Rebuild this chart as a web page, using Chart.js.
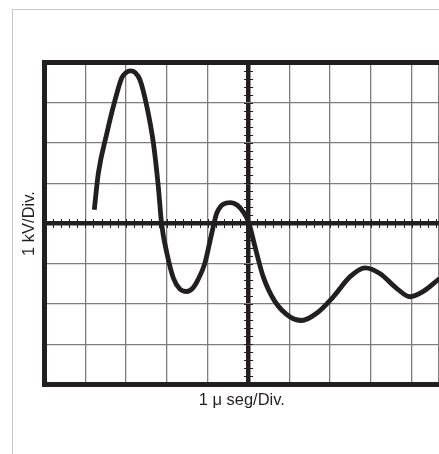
<!DOCTYPE html>
<html>
<head>
<meta charset="utf-8">
<script src="https://cdn.jsdelivr.net/npm/chart.js@4.4.1/dist/chart.umd.min.js"></script>
<style>
  html, body { margin:0; padding:0; background:#fff; overflow:hidden; width:439px; height:454px; }
  #frame { position:absolute; left:12px; top:9px; width:600px; height:600px;
           border-left:1px solid #c9c9c9; border-top:1px solid #c9c9c9; }
  #c { position:absolute; left:0; top:0; }
</style>
</head>
<body>
<div id="frame"></div>
<canvas id="c" width="439" height="454"></canvas>
<script>
// Time in divisions (1 µs/Div) measured from the left edge of the screen
const timeDiv = [1.22,1.32,1.53,1.73,1.89,2.00,2.11,2.22,2.34,2.51,2.67,2.79,2.87,3.00,3.16,3.32,3.49,3.64,3.76,3.93,4.10,4.22,4.38,4.56,4.72,4.87,5.00,5.16,5.36,5.65,6.02,6.30,6.67,7.08,7.49,7.86,8.22,8.63,8.96,9.28,9.68];
// Voltage in divisions (1 kV/Div) from the centre line
const voltDiv = [0.34,1.25,2.25,3.07,3.61,3.75,3.79,3.75,3.57,2.90,1.99,0.91,-0.01,-0.74,-1.36,-1.63,-1.69,-1.60,-1.40,-0.99,-0.24,0.25,0.48,0.52,0.46,0.29,0.04,-0.58,-1.32,-1.94,-2.32,-2.41,-2.23,-1.82,-1.32,-1.10,-1.24,-1.61,-1.82,-1.69,-1.37];
// Grid divisions
const xGridValues = [0,1,2,3,4,5,6,7,8,9];
const X_MIN = 0, X_MAX = 9.669;   // visible part of the 10-division screen
const Y_MIN = -4, Y_MAX = 4;
const X_CENTER = 5, Y_CENTER = 0;
const MINOR_STEP = 0.2;
const xTitle = '1 μ seg/Div.';
const yTitle = '1 kV/Div.';

const INK = '#231f20';
const GRID = '#7d7d7d';
const FONT = "'Liberation Sans', Arial, Helvetica, sans-serif";

const points = timeDiv.map((t, i) => ({x: t, y: voltDiv[i]}));

const minorTicks = {
  id: 'minorTicks',
  beforeDatasetsDraw(chart) {
    const {ctx} = chart;
    const xs = chart.scales.x, ys = chart.scales.y;
    const y0 = ys.getPixelForValue(Y_CENTER);
    const x0 = xs.getPixelForValue(X_CENTER);
    ctx.save();
    ctx.strokeStyle = INK;
    ctx.lineWidth = 1;
    ctx.beginPath();
    for (let v = X_MIN + MINOR_STEP; v < X_MAX; v += MINOR_STEP) {
      const px = Math.round(xs.getPixelForValue(v)) + 0.5;
      ctx.moveTo(px, y0 - 4.5); ctx.lineTo(px, y0 + 4.5);
    }
    for (let v = Y_MIN + MINOR_STEP; v < Y_MAX; v += MINOR_STEP) {
      const py = Math.round(ys.getPixelForValue(v)) + 0.5;
      ctx.moveTo(x0 - 4.5, py); ctx.lineTo(x0 + 4.5, py);
    }
    ctx.stroke();
    ctx.restore();
  }
};

function gridWidth(v, center, edges) {
  if (Math.abs(v - center) < 1e-9) return 4.5;
  if (edges.some(e => Math.abs(v - e) < 1e-9)) return 5;
  return 1.3;
}
function gridColor(v, center, edges) {
  if (Math.abs(v - center) < 1e-9) return INK;
  if (edges.some(e => Math.abs(v - e) < 1e-9)) return INK;
  return GRID;
}

new Chart(document.getElementById('c'), {
  type: 'scatter',
  data: {
    datasets: [{
      data: points,
      showLine: true,
      borderColor: INK,
      borderWidth: 4.8,
      pointRadius: 0,
      cubicInterpolationMode: 'monotone',
      fill: false
    }]
  },
  options: {
    responsive: false,
    devicePixelRatio: 1,
    animation: false,
    layout: { padding: { top: 62.5, right: 0, left: 0, bottom: 0 } },
    plugins: { legend: { display: false }, tooltip: { enabled: false } },
    scales: {
      x: {
        type: 'linear',
        min: X_MIN, max: X_MAX,
        afterBuildTicks(scale) {
          scale.ticks = xGridValues.map(v => ({value: v})).concat([{value: X_MAX}]);
        },
        afterFit(scale) { scale.height = 454 - 384.5; },
        ticks: { display: false },
        grid: {
          drawTicks: false,
          lineWidth: c => gridWidth(c.tick.value, X_CENTER, [X_MIN]),
          color: c => gridColor(c.tick.value, X_CENTER, [X_MIN])
        },
        border: { display: true, width: 5, color: INK },
        title: {
          display: true, text: xTitle, color: INK,
          font: { family: FONT, size: 16.5 },
          padding: { top: 0, bottom: 43.6 }
        }
      },
      y: {
        type: 'linear',
        min: Y_MIN, max: Y_MAX,
        ticks: { display: false, stepSize: 1 },
        afterFit(scale) { scale.width = 44.5; },
        grid: {
          drawTicks: false,
          lineWidth: c => gridWidth(c.tick.value, Y_CENTER, [Y_MIN, Y_MAX]),
          color: c => gridColor(c.tick.value, Y_CENTER, [Y_MIN, Y_MAX])
        },
        border: { display: true, width: 5, color: INK },
        title: {
          display: true, text: yTitle, color: INK,
          font: { family: FONT, size: 16.5 },
          padding: { top: 19.4, bottom: 0 }
        }
      }
    }
  },
  plugins: [minorTicks]
});
</script>
</body>
</html>
